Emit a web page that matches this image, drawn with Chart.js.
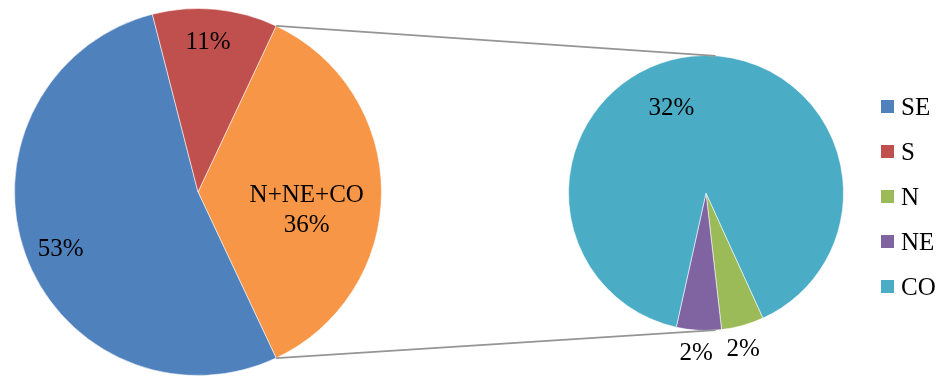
<!DOCTYPE html>
<html>
<head>
<meta charset="utf-8">
<script src="https://cdn.jsdelivr.net/npm/chart.js@4.4.0/dist/chart.umd.min.js"></script>
<style>
  html, body { margin: 0; padding: 0; background: #fff; }
  #wrap { position: relative; width: 941px; height: 376px; overflow: hidden; }
  #wrap canvas { position: absolute; left: 0; top: 0; }
  #legend { position: absolute; left: 881px; top: 84px; font: 25px "Liberation Serif", "Times New Roman", serif; color: #000; }
  #legend .row { display: flex; align-items: center; height: 45px; line-height: 45px; }
  #legend .box { width: 13px; height: 13px; margin-right: 7px; }
</style>
</head>
<body>
<div id="wrap">
  <canvas id="mainPie" width="941" height="376"></canvas>
  <canvas id="subPie" width="941" height="376"></canvas>
  <div id="legend"></div>
</div>
<script>
// shares by region (%)
const regions = ['SE', 'S', 'N', 'NE', 'CO'];
const shares = [53, 11, 1.8, 1.9, 32.3];
const regionColors = ['#4F81BD', '#C0504D', '#9BBB59', '#8064A2', '#4BACC6'];

// regions grouped into the second pie
const groupName = 'N+NE+CO';
const groupColor = '#F79646';
const groupIdx = [2, 3, 4];

const FONT = '"Liberation Serif", "Times New Roman", serif';

const groupTotal = groupIdx.reduce((s, i) => s + shares[i], 0);

// main pie: group slice first so it sits centred on the right side
const mainLabels = [groupName, regions[0], regions[1]];
const mainValues = [groupTotal, shares[0], shares[1]];
const mainColors = [groupColor, regionColors[0], regionColors[1]];
const mainText = [[groupName, Math.round(groupTotal) + '%'], [Math.round(shares[0]) + '%'], [Math.round(shares[1]) + '%']];
const mainLabelPos = [{ r: 0.6, da: 9 }, { r: 0.81, da: -2.6 }, { r: 0.823, da: -1.6 }];

// second pie
const subLabels = groupIdx.map(i => regions[i]);
const subValues = groupIdx.map(i => shares[i]);
const subColors = groupIdx.map(i => regionColors[i]);
const subText = subValues.map(v => [Math.round(v) + '%']);
const subLabelPos = [{ r: 1.16, da: 2 }, { r: 1.16, da: 0.5 }, { r: 0.67, da: -16 }];

function labelPlugin(id, texts, pos) {
    return {
        id: id,
        afterDatasetsDraw(chart) {
            const ctx = chart.ctx;
            const arcs = chart.getDatasetMeta(0).data;
            ctx.save();
            ctx.fillStyle = '#000';
            ctx.font = '25px ' + FONT;
            ctx.textAlign = 'center';
            ctx.textBaseline = 'middle';
            arcs.forEach((arc, i) => {
                const p = pos[i];
                const a = (arc.startAngle + arc.endAngle) / 2 + p.da * Math.PI / 180;
                const cx = arc.x + Math.cos(a) * arc.outerRadius * p.r;
                const cy = arc.y + Math.sin(a) * arc.outerRadius * p.r;
                const lines = texts[i];
                const lh = 30;
                lines.forEach((t, k) => {
                    ctx.fillText(t, cx, cy + (k - (lines.length - 1) / 2) * lh + 1);
                });
            });
            ctx.restore();
        }
    };
}

const pieOptions = (rotation, padding) => ({
    responsive: false,
    animation: false,
    devicePixelRatio: 1,
    rotation: rotation,
    layout: { padding: padding },
    plugins: { legend: { display: false }, tooltip: { enabled: false } },
    events: []
});

const mainPie = new Chart(document.getElementById('mainPie'), {
    type: 'pie',
    data: {
        labels: mainLabels,
        datasets: [{
            data: mainValues,
            backgroundColor: mainColors,
            borderColor: 'rgba(255,255,255,0.55)',
            borderWidth: 1,
            hoverOffset: 0
        }]
    },
    options: pieOptions(90 - groupTotal / 100 * 180, { left: 13, right: 558, top: 8, bottom: -2 }),
    plugins: [labelPlugin('mainLabels', mainText, mainLabelPos)]
});

// lines joining the group slice to the second pie
const connectorPlugin = {
    id: 'connectors',
    afterDatasetsDraw(chart) {
        const src = mainPie.getDatasetMeta(0).data[0];
        const dst = chart.getDatasetMeta(0).data[0];
        const ctx = chart.ctx;
        const off = 86 * Math.PI / 180;
        const ends = [
            [src.startAngle, -off],
            [src.endAngle, off]
        ];
        ctx.save();
        ctx.strokeStyle = '#959595';
        ctx.lineWidth = 1.8;
        ends.forEach(([a, b]) => {
            ctx.beginPath();
            ctx.moveTo(src.x + Math.cos(a) * src.outerRadius, src.y + Math.sin(a) * src.outerRadius);
            ctx.lineTo(dst.x + Math.cos(b) * dst.outerRadius, dst.y + Math.sin(b) * dst.outerRadius);
            ctx.stroke();
        });
        ctx.restore();
    }
};

const subPie = new Chart(document.getElementById('subPie'), {
    type: 'pie',
    data: {
        labels: subLabels,
        datasets: [{
            data: subValues,
            backgroundColor: subColors,
            borderColor: 'rgba(255,255,255,0.55)',
            borderWidth: 1,
            hoverOffset: 0
        }]
    },
    options: pieOptions(155.5, { left: 568, right: 97, top: 55, bottom: 45 }),
    plugins: [connectorPlugin, labelPlugin('subLabels', subText, subLabelPos)]
});

// legend with every region
const legend = document.getElementById('legend');
regions.forEach((name, i) => {
    const row = document.createElement('div');
    row.className = 'row';
    const box = document.createElement('span');
    box.className = 'box';
    box.style.background = regionColors[i];
    const txt = document.createElement('span');
    txt.textContent = name;
    row.appendChild(box);
    row.appendChild(txt);
    legend.appendChild(row);
});
</script>
</body>
</html>
